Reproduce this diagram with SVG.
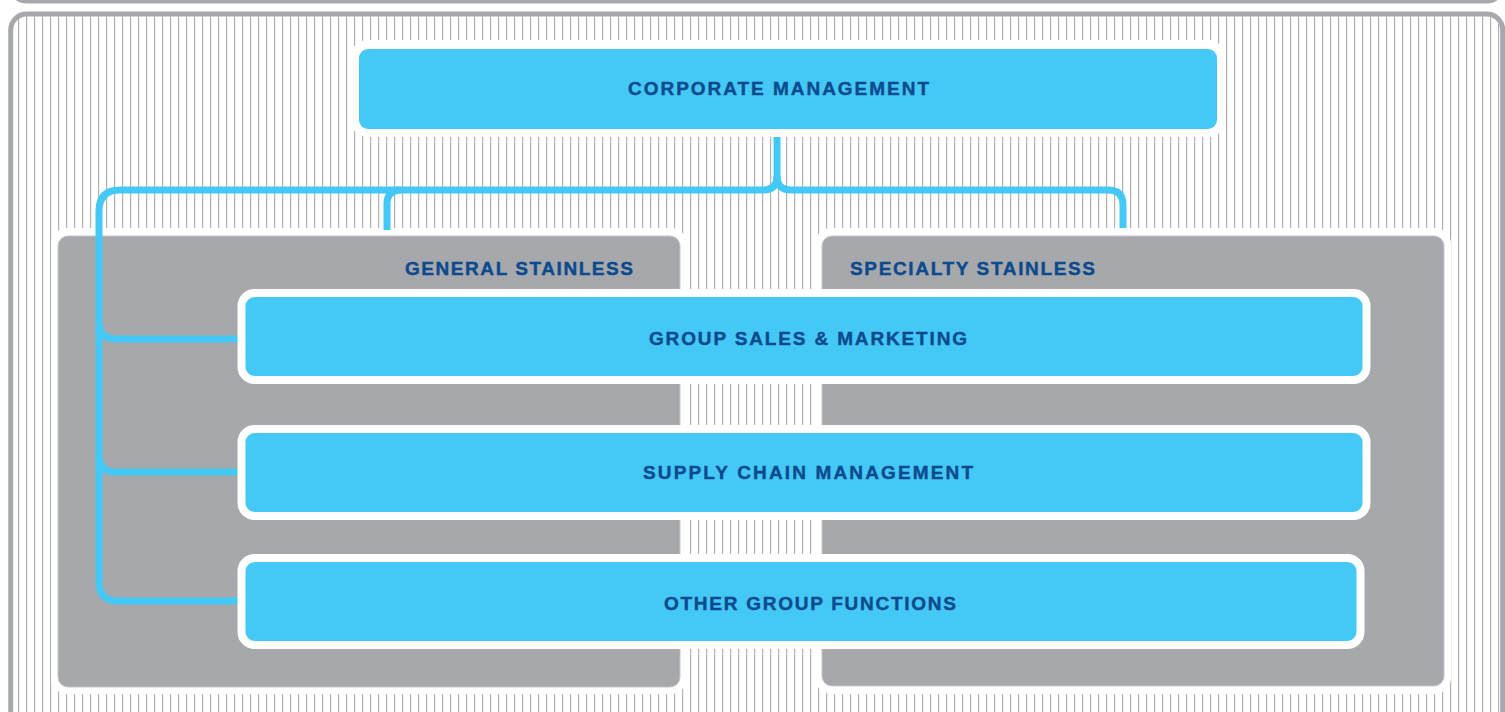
<svg xmlns="http://www.w3.org/2000/svg" width="1505" height="712" viewBox="0 0 1505 712">
  <defs>
    <pattern id="hatch" patternUnits="userSpaceOnUse" x="0" y="0" width="8" height="10">
      <rect x="2.17" y="0" width="1" height="10" fill="#a0a0a0"/>
    </pattern>
  </defs>
  <style>
    .frame { fill: none; stroke: #a7a8ab; stroke-width: 5; }
    .margin { fill: #ffffff; }
    .panel { fill: #a7a8ab; stroke: #c4c5c8; stroke-width: 1; }
    .node { fill: #44c8f5; stroke: #ffffff; stroke-width: 8; }
    .top { fill: #44c8f5; }
    .conn { fill: none; stroke: #44c8f5; stroke-width: 7; stroke-linejoin: round; }
    .lbl { font-family: "Liberation Sans", Arial, sans-serif; font-weight: bold; font-size: 19px; fill: #0b4a8e; stroke: #0b4a8e; stroke-width: 0.4px; }
  </style>

  <!-- background frames -->
  <rect x="10.7" y="-30" width="1492" height="31" rx="16" class="frame"/>
  <rect x="13" y="16.5" width="1487" height="710" rx="13" fill="url(#hatch)"/>
  <rect x="10.7" y="14" width="1492" height="720" rx="16" class="frame"/>

  <!-- white margins -->
  <rect x="350" y="40" width="876" height="97" rx="18" class="margin"/>
  <rect x="51" y="228" width="636" height="466" rx="16" class="margin"/>
  <rect x="815" y="228" width="636" height="466" rx="16" class="margin"/>

  <!-- panels -->
  <g id="general-stainless">
    <rect x="58" y="236" width="622" height="451" rx="10" class="panel"/>
    <text x="405" y="275" class="lbl" textLength="228" lengthAdjust="spacing">GENERAL STAINLESS</text>
  </g>
  <g id="specialty-stainless">
    <rect x="822" y="236" width="622" height="450" rx="10" class="panel"/>
    <text x="850" y="275" class="lbl" textLength="245" lengthAdjust="spacing">SPECIALTY STAINLESS</text>
  </g>

  <!-- connectors -->
  <g id="connectors">
    <path class="conn" d="M 777 137 L 777 176 Q 777 190 763 190 L 120 190 Q 99 190 99 211 L 99 582 Q 99 601 118 601 L 242 601"/>
    <path class="conn" d="M 777 176 Q 777 190 791 190 L 1108 190 Q 1123 190 1123 205 L 1123 228"/>
    <path class="conn" d="M 401 190 Q 387 190 387 204 L 387 230"/>
    <path class="conn" d="M 99 322 Q 99 339 116 339 L 242 339"/>
    <path class="conn" d="M 99 455 Q 99 472 116 472 L 242 472"/>
  </g>

  <!-- nodes -->
  <g id="corporate-management">
    <rect x="359" y="49" width="858" height="80" rx="9" class="top"/>
    <text x="778.5" y="95" class="lbl" text-anchor="middle" textLength="301" lengthAdjust="spacing">CORPORATE MANAGEMENT</text>
  </g>
  <g id="group-sales-marketing">
    <rect x="241.5" y="293" width="1125" height="87" rx="13" class="node"/>
    <text x="808" y="345" class="lbl" text-anchor="middle" textLength="318" lengthAdjust="spacing">GROUP SALES &amp; MARKETING</text>
  </g>
  <g id="supply-chain-management">
    <rect x="241.5" y="429" width="1125" height="87" rx="13" class="node"/>
    <text x="808" y="479" class="lbl" text-anchor="middle" textLength="330" lengthAdjust="spacing">SUPPLY CHAIN MANAGEMENT</text>
  </g>
  <g id="other-group-functions">
    <rect x="241.5" y="558" width="1119" height="87" rx="13" class="node"/>
    <text x="810" y="610" class="lbl" text-anchor="middle" textLength="292" lengthAdjust="spacing">OTHER GROUP FUNCTIONS</text>
  </g>
</svg>
